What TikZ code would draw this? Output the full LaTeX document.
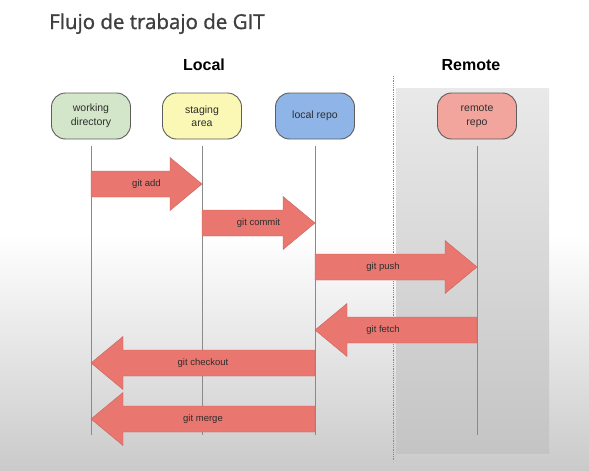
\documentclass[tikz,border=0pt]{standalone}
\usepackage{fontspec}
\setmainfont{Liberation Sans}
\newfontfamily\titlefont[FakeBold=1.2]{Open Sans}
\usetikzlibrary{calc}
\definecolor{titlegray}{HTML}{3F3F3F}
\definecolor{txt}{HTML}{2E2E2E}
\definecolor{nodeborder}{HTML}{5E5E5E}
\definecolor{wdfill}{HTML}{D3E6C9}
\definecolor{safill}{HTML}{FAF8B4}
\definecolor{lrfill}{HTML}{8FB5E8}
\definecolor{rrfill}{HTML}{F2A59D}
\definecolor{arrowfill}{HTML}{E9766F}
\definecolor{arrowedge}{HTML}{C9615D}
\definecolor{colline}{HTML}{8A8A8A}
\definecolor{bgbottom}{HTML}{CACACA}
\definecolor{paneltop}{HTML}{E9E9E9}
\definecolor{panelbottom}{HTML}{C4C4C4}
\tikzset{
  repo/.style={draw=nodeborder, line width=0.9pt, rounded corners=14pt,
    minimum width=79pt, minimum height=46pt, align=center, text=txt,
    font=\fontsize{10.5}{13.5}\selectfont},
  colstyle/.style={draw=colline, line width=0.9pt},
  garrow/.style={fill=arrowfill, draw=arrowedge, line width=0.4pt},
  glabel/.style={text=txt, font=\fontsize{9.5}{11}\selectfont},
  sidehead/.style={anchor=base, text=black, font=\bfseries\fontsize{16}{18}\selectfont}
}
\newcommand\gitarrow[5]{%
  \path[garrow] let \p1=(#1), \p2=(#2), \p3=(0,#3), \n1={sign(\x2-\x1)} in
    (\x1,\y3+13pt) -- (\x2-\n1*32pt,\y3+13pt) -- (\x2-\n1*32pt,\y3+26.5pt)
    -- (\x2,\y3) -- (\x2-\n1*32pt,\y3-26.5pt) -- (\x2-\n1*32pt,\y3-13pt)
    -- (\x1,\y3-13pt) -- cycle
    node[glabel] at ({(\x1+\x2)/2+#5},\y3) {#4};%
}
\begin{document}
\begin{tikzpicture}[x=1pt,y=-1pt]
\useasboundingbox (0,0) rectangle (589,471);
% background
\fill[white] (0,0) rectangle (589,471);
\shade[top color=white, bottom color=bgbottom] (0,235) rectangle (589,471);
% remote panel
\shade[top color=paneltop, bottom color=panelbottom] (396,88) rectangle (549,453);
\draw[colline, densely dotted, line width=0.8pt] (393,76) -- (393,460);
% titles
\node[anchor=base west, inner sep=0pt, text=titlegray, font=\titlefont\fontsize{20.5}{24}\selectfont] (title) at (49,29) {Flujo de trabajo de GIT};
\node[sidehead] (local) at (204,70) {Local};
\node[sidehead] (remote) at (471,70) {Remote};
% repos
\node[repo, fill=wdfill] (wd) at (91,116) {working\\directory};
\node[repo, fill=safill] (sa) at (202,116) {staging\\area};
\node[repo, fill=lrfill] (lr) at (315,116) {local repo};
\node[repo, fill=rrfill] (rr) at (477,116) {remote\\repo};
% lifelines
\coordinate (bot) at (0,435);
\foreach \n in {wd,sa,lr,rr}{
  \draw[colstyle] ([yshift=-7pt]\n.south) -- (\n |- bot);
}
% block arrows
\gitarrow{wd}{sa}{184}{git add}{0pt}
\gitarrow{sa}{lr}{223}{git commit}{0pt}
\gitarrow{lr}{rr}{267}{git push}{-13pt}
\gitarrow{rr}{lr}{330}{git fetch}{-13pt}
\gitarrow{lr}{wd}{363}{git checkout}{0pt}
\gitarrow{lr}{wd}{419}{git merge}{0pt}
\end{tikzpicture}
\end{document}
